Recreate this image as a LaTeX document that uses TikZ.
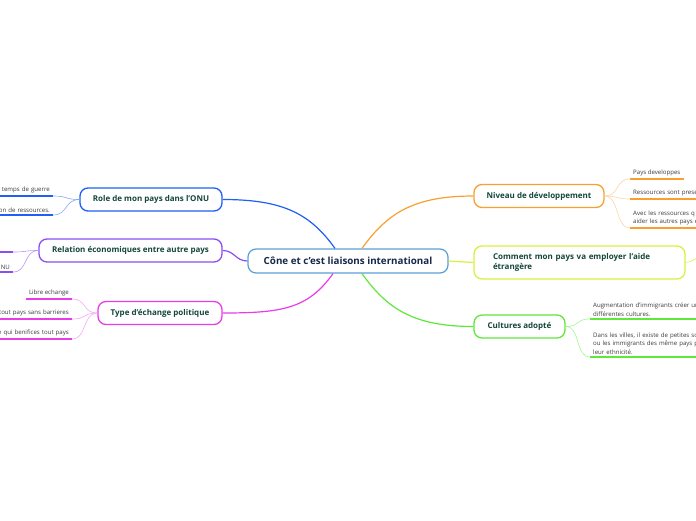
\documentclass[tikz,border=0pt]{standalone}
\usepackage{fontspec}
\setmainfont{Open Sans}
\usepackage{xcolor}
\usetikzlibrary{positioning, calc}

\definecolor{rootline}{HTML}{5A9FD6}
\definecolor{roottext}{HTML}{16284A}
\definecolor{branchtext}{HTML}{14463A}
\definecolor{leaftext}{HTML}{3A3A3A}
\definecolor{cblue}{HTML}{1F5FF5}
\definecolor{cpurple}{HTML}{8A4FF0}
\definecolor{cmagenta}{HTML}{E83CE8}
\definecolor{corange}{HTML}{F7A030}
\definecolor{cyellow}{HTML}{D8F040}
\definecolor{cgreen}{HTML}{5DE83A}

\begin{document}
\begin{tikzpicture}[x=1pt, y=-1pt,
                root/.style={rectangle, draw=rootline, line width=1.2pt, fill=white, rounded corners=8pt, minimum width=200pt, minimum height=24pt, font=\fontsize{9.8}{12}\selectfont\bfseries, text=roottext},
                branch/.style={rectangle, line width=1.3pt, fill=white, rounded corners=8pt, minimum height=23pt, align=center, font=\fontsize{8}{10.5}\selectfont\bfseries, text=branchtext},
                leaf/.style={inner xsep=3pt, inner ysep=2.5pt, font=\fontsize{6.1}{8.6}\selectfont, text=leaftext},
                limb/.style={line width=1.2pt},
                twig/.style={line width=0.6pt},
                uline/.style={line width=2pt}
            ]
                \useasboundingbox (0,0) rectangle (696,520);
                \clip (0,0) rectangle (696,520);

                \node (ctr) [root] at (348,261) {Cône et c'est liaisons international};

                \node (role) [branch, draw=cblue, minimum width=142pt] at (151,199.5) {Role de mon pays dans l'ONU};
                \node (rel) [branch, draw=cpurple, minimum width=183pt] at (130.5,250.5) {Relation économiques entre autre pays};
                \node (type) [branch, draw=cmagenta, minimum width=124pt] at (160,313) {Type d'échange politique};
                \node (niv) [branch, draw=corange, minimum width=130pt] at (539,196) {Niveau de développement};
                \node (com) [branch, draw=cyellow, minimum width=211pt, minimum height=33pt, text width=173pt, inner xsep=0pt, align=left] at (579.5,262.5) {Comment mon pays va employer l'aide\\étrangère};
                \node (cul) [branch, draw=cgreen, minimum width=91pt] at (519.5,326.5) {Cultures adopté};

                \draw [limb, cblue] ([xshift=-13pt]ctr.north) .. controls +(-25,-35) and +(60,0) .. (role.east);
                \draw [limb, cpurple] (ctr.west) .. controls +(-12,0) and +(12,0) .. (rel.east);
                \draw [limb, cmagenta] ([xshift=-15pt]ctr.south) .. controls +(-25,35) and +(60,0) .. (type.east);
                \draw [limb, corange] ([xshift=14pt]ctr.north) .. controls +(25,-35) and +(-60,0) .. (niv.west);
                \draw [limb, cyellow] (ctr.east) -- (com.west);
                \draw [limb, cgreen] ([xshift=14pt]ctr.south) .. controls +(25,35) and +(-60,0) .. (cul.west);

                % left leaves
                \node (r1) [leaf, anchor=south east, text width=90pt, align=right] at (53,196) {n temps de guerre};
                \node (r2) [leaf, anchor=south east, text width=90pt, align=right] at (53,215) {on de ressources.};
                \node (e1) [leaf, anchor=south east, text width=40pt, align=right] at (13,252) {};
                \node (e2) [leaf, anchor=south east, text width=40pt, align=right] at (13,272) {NU};
                \node (t1) [leaf, anchor=south east] at (72,299) {Libre echange};
                \node (t2) [leaf, anchor=south east, text width=90pt, align=right] at (72,319) {tout pays sans barrieres};
                \node (t3) [leaf, anchor=south east, text width=90pt, align=right] at (72,339) {e qui benifices tout pays};

                % right leaves
                \node (n1) [leaf, anchor=south west] at (630,179) {Pays developpes};
                \node (n2) [leaf, anchor=south west, text width=66pt, align=left] at (630,199) {Ressources sont prese};
                \node (n3) [leaf, anchor=south west, text width=66pt, align=left] at (630,228) {Avec les ressources q\\aider les autres pays e};
                \node (c1) [leaf, anchor=south west, text width=106pt, align=left] at (590,319) {Augmentation d'immigrants créer un\\différentes cultures.};
                \node (c2) [leaf, anchor=south west, text width=106pt, align=left] at (590,357) {Dans les villes, il existe de petites so\\ou les immigrants des même pays p\\leur ethnicité.};
                \coordinate (comout) at (700,258);

                \foreach \l/\c in {r1/cblue, r2/cblue, e1/cpurple, e2/cpurple, t1/cmagenta, t2/cmagenta, t3/cmagenta,
                                   n1/corange, n2/corange, n3/corange, c1/cgreen, c2/cgreen}
                    \draw [uline, \c] (\l.south west) -- (\l.south east);

                \draw [twig, cblue!55] (role.west) .. controls +(-15,0) and +(15,0) .. (r1.south east);
                \draw [twig, cblue!55] (role.west) .. controls +(-15,0) and +(15,0) .. (r2.south east);
                \draw [twig, cpurple!60] (rel.west) .. controls +(-15,0) and +(15,0) .. (e1.south east);
                \draw [twig, cpurple!60] (rel.west) .. controls +(-15,0) and +(15,0) .. (e2.south east);
                \draw [twig, cmagenta!45] (type.west) .. controls +(-15,0) and +(15,0) .. (t1.south east);
                \draw [twig, cmagenta!45] (type.west) .. controls +(-15,0) and +(15,0) .. (t2.south east);
                \draw [twig, cmagenta!45] (type.west) .. controls +(-15,0) and +(15,0) .. (t3.south east);
                \draw [twig, corange!45] (niv.east) .. controls +(15,0) and +(-15,0) .. (n1.south west);
                \draw [twig, corange!45] (niv.east) .. controls +(15,0) and +(-15,0) .. (n2.south west);
                \draw [twig, corange!45] (niv.east) .. controls +(15,0) and +(-15,0) .. (n3.south west);
                \draw [twig, cyellow] (com.east) .. controls +(6,0) and +(-6,0) .. (comout);
                \draw [twig, cgreen!55] (cul.east) .. controls +(15,0) and +(-15,0) .. (c1.south west);
                \draw [twig, cgreen!55] (cul.east) .. controls +(15,0) and +(-15,0) .. (c2.south west);
            \end{tikzpicture}
\end{document}
